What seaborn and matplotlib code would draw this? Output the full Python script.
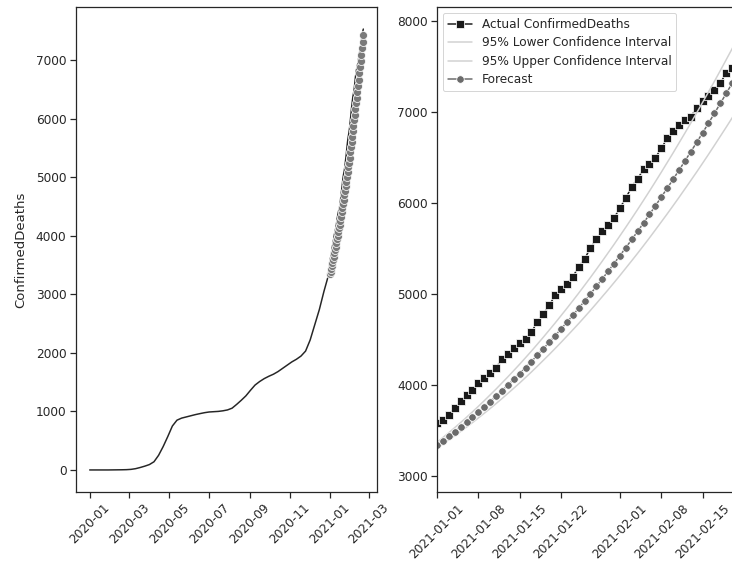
import pandas as pd
import matplotlib
matplotlib.use("Agg")
import matplotlib.pyplot as plt
import seaborn as sns

# weekly cumulative deaths, 2020 (training period)
train_start = "2020-01-01"
train_deaths = [0, 0, 0, 0, 0, 1, 2, 3, 5, 10, 22, 42, 65, 92, 140, 250, 400, 570,
                750, 850, 885, 905, 925, 945, 962, 978, 990, 995, 1000, 1010, 1025,
                1055, 1120, 1190, 1265, 1360, 1450, 1510, 1560, 1600, 1635, 1680,
                1735, 1790, 1845, 1890, 1945, 2030, 2220, 2480, 2740, 3050, 3330]

# daily values, test period from 2021-01-01
test_start = "2021-01-01"
actual_deaths = [3581, 3618, 3673, 3747, 3820, 3887, 3950, 4024, 4072, 4128,
                 4191, 4283, 4346, 4405, 4457, 4504, 4579, 4696, 4782, 4874,
                 4984, 5055, 5110, 5191, 5295, 5386, 5504, 5607, 5688, 5754,
                 5836, 5946, 6056, 6178, 6269, 6369, 6427, 6498, 6600, 6711,
                 6796, 6858, 6913, 6950, 7042, 7116, 7171, 7244, 7318, 7428,
                 7480, 7530]
forecast = [3340, 3388, 3437, 3487, 3538, 3591, 3645, 3701, 3758, 3816,
            3875, 3936, 3998, 4061, 4125, 4191, 4258, 4327, 4397, 4468,
            4540, 4614, 4689, 4765, 4842, 4921, 5001, 5083, 5166, 5250,
            5335, 5422, 5510, 5599, 5689, 5781, 5874, 5969, 6065, 6162,
            6260, 6360, 6461, 6563, 6666, 6771, 6877, 6985, 7094, 7204,
            7315, 7428]
lower_ci = [3310, 3353, 3398, 3443, 3489, 3537, 3586, 3637, 3689, 3741,
            3795, 3850, 3907, 3964, 4022, 4082, 4143, 4206, 4270, 4334,
            4400, 4467, 4536, 4605, 4675, 4747, 4820, 4895, 4971, 5047,
            5125, 5204, 5285, 5366, 5448, 5532, 5617, 5704, 5792, 5880,
            5970, 6061, 6154, 6247, 6341, 6437, 6534, 6633, 6733, 6833,
            6935, 7038]
upper_ci = [3370, 3423, 3476, 3531, 3587, 3645, 3704, 3765, 3827, 3891,
            3955, 4022, 4089, 4158, 4228, 4300, 4373, 4448, 4524, 4602,
            4680, 4761, 4842, 4925, 5009, 5095, 5182, 5271, 5361, 5453,
            5545, 5640, 5735, 5832, 5930, 6030, 6131, 6234, 6338, 6444,
            6550, 6659, 6768, 6879, 6991, 7105, 7220, 7337, 7455, 7575,
            7695, 7818]

train_dates = pd.date_range(train_start, periods=len(train_deaths), freq="7D")
test_dates = pd.date_range(test_start, periods=len(actual_deaths), freq="D")

history = pd.DataFrame({
    "date": list(train_dates) + list(test_dates),
    "ConfirmedDeaths": train_deaths + actual_deaths,
})
test = pd.DataFrame({
    "date": test_dates,
    "actual": actual_deaths,
    "forecast": forecast,
    "lower": lower_ci,
    "upper": upper_ci,
})

sns.set_theme(style="ticks", context="notebook", font_scale=1.1)

W, H = 732, 565
fig = plt.figure(figsize=(W / 72, H / 72), dpi=72)
ax1 = fig.add_axes([76 / W, 73 / H, 301 / W, 485 / H])
ax2 = fig.add_axes([437 / W, 73 / H, 301 / W, 485 / H])

# left: full history + forecast
sns.lineplot(data=history, x="date", y="ConfirmedDeaths", color="0.15", lw=1.5, ax=ax1)
sns.lineplot(data=test, x="date", y="forecast", color="0.48", marker="o", ms=8,
             lw=1, ax=ax1)
ax1.set_xlabel("")
ax1.set_ylabel("ConfirmedDeaths", labelpad=9)

# right: test period zoom
sns.lineplot(data=test, x="date", y="actual", color="0.1", marker="s", ms=8.5,
             lw=1.5, label="Actual ConfirmedDeaths", ax=ax2)
sns.lineplot(data=test, x="date", y="lower", color="0.82", lw=1.5,
             label="95% Lower Confidence Interval", ax=ax2)
sns.lineplot(data=test, x="date", y="upper", color="0.82", lw=1.5,
             label="95% Upper Confidence Interval", ax=ax2)
sns.lineplot(data=test, x="date", y="forecast", color="0.42", marker="o", ms=7.5,
             lw=1.5, label="Forecast", ax=ax2)
ax2.set_xlim(test_dates[0], test_dates[-1])
ax2.set_ylim(2824, 8154)
ax2.set_xlabel("")
ax2.set_ylabel("")
ax2.legend(loc="upper left", labelspacing=0.45)

for ax in (ax1, ax2):
    ax.tick_params(axis="x", rotation=45)

fig.savefig("out.png", dpi=72)
